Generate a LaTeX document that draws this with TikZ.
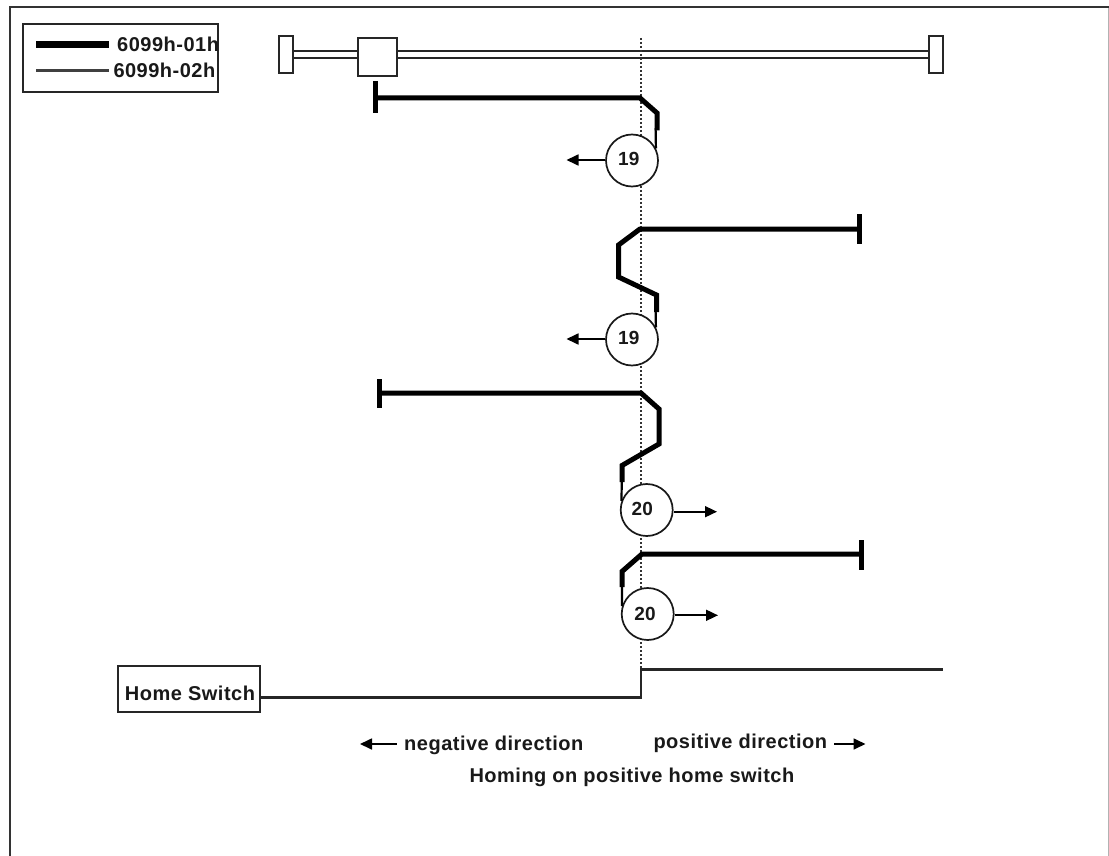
\documentclass[tikz,border=0pt]{standalone}
\usepackage{fontspec}
\setmainfont{Liberation Sans}
\newfontfamily\lblfont[LetterSpace=2.5]{Liberation Sans}
\usetikzlibrary{arrows.meta}
\tikzset{
  thickpath/.style={line width=5pt,line join=miter,black},
  thinpath/.style={line width=2.2pt,black},
  stopbar/.style={line width=5pt,black},
  circ/.style={circle,draw=black!90,line width=1.7pt,minimum size=52pt,inner sep=0pt,fill=white},
  circnum/.style={font=\bfseries\fontsize{19}{19}\selectfont,inner sep=0pt,text=black!90},
  dirarrow/.style={line width=1.7pt,-{Triangle[length=12pt,width=11pt]}},
  lbl/.style={font=\lblfont\bfseries\fontsize{20}{20}\selectfont,inner sep=0pt,text=black!90},
  boxx/.style={draw=black!85,line width=2pt,fill=white,inner sep=0pt}
}
\begin{document}
\begin{tikzpicture}[x=1pt,y=-1pt]
\useasboundingbox (0,0) rectangle (1109,856);
\fill[white] (0,0) rectangle (1109,856);
% frame
\coordinate (fa) at (10,856); \coordinate (fb) at (10,7); \coordinate (fc) at (1108.5,7); \coordinate (fd) at (1108.5,856);
\draw[line width=1pt,black!30] (fc) -- (fd);
\draw[line width=2.2pt,black!80] (fa) -- (fb) -- (fc);
% legend
\node[boxx,minimum width=195pt,minimum height=67.5pt,anchor=north west] (legend) at (22.3,23.3) {};
\coordinate (l1a) at (36,44.3); \coordinate (l1b) at (108.7,44.3);
\coordinate (l2a) at (36,70.7); \coordinate (l2b) at (108.7,70.7);
\draw[line width=6.5pt,black] (l1a) -- (l1b);
\draw[line width=2.4pt,black!75] (l2a) -- (l2b);
\node[lbl,anchor=west] (t1) at (117,44.5) {6099h-01h};
\node[lbl,anchor=west] (t2) at (113.3,70.7) {6099h-02h};
% rail
\coordinate (r1a) at (292,51); \coordinate (r1b) at (930,51);
\coordinate (r2a) at (292,58.3); \coordinate (r2b) at (930,58.3);
\draw[line width=2pt,black!85] (r1a) -- (r1b);
\draw[line width=2pt,black!85] (r2a) -- (r2b);
\node[boxx,minimum width=13.5pt,minimum height=37.3pt] (endl) at (285.8,54.7) {};
\node[boxx,minimum width=13.5pt,minimum height=37.3pt] (endr) at (936,54.7) {};
\node[boxx,minimum width=38.4pt,minimum height=37.4pt] (slider) at (377.5,57) {};
% dotted centre line
\coordinate (da) at (640.7,38); \coordinate (db) at (640.7,669);
\draw[line width=2pt,black!80,dash pattern=on 2pt off 2pt] (da) -- (db);
% circles
\node[circ] (c1) at (632,160.5) {};
\node[circ] (c2) at (632,339.5) {};
\node[circ] (c3) at (646.7,510) {};
\node[circ] (c4) at (647.7,614) {};
\node[circnum] (n1) at (628.8,159.3) {19};
\node[circnum] (n2) at (628.8,338.3) {19};
\node[circnum] (n3) at (642.3,509.3) {20};
\node[circnum] (n4) at (645,614) {20};
% arrows from circles
\coordinate (a1) at (566.5,160); \coordinate (a2) at (566.5,339);
\coordinate (a3) at (717,511.7); \coordinate (a4) at (718,615.3);
\draw[dirarrow] (c1.west |- a1) -- (a1);
\draw[dirarrow] (c2.west |- a2) -- (a2);
\draw[dirarrow] (c3.east |- a3) -- (a3);
\draw[dirarrow] (c4.east |- a4) -- (a4);
% path 1
\coordinate (p1s) at (375,98); \coordinate (p1t) at (375,81); \coordinate (p1u) at (375,113);
\coordinate (q1) at (655.6,128);
\draw[thinpath] (q1) -- (c1.27);
\draw[stopbar] (p1t) -- (p1u);
\draw[thickpath] (p1s) -- (640,98) -- (657,113) -- (657,130.5);
% path 2
\coordinate (p2t) at (859,214); \coordinate (p2u) at (859,244);
\coordinate (q2) at (655.6,310);
\draw[thinpath] (q2) -- (c2.27);
\draw[stopbar] (p2t) -- (p2u);
\draw[thickpath] (859,229) -- (640,229) -- (618.5,245) -- (618.5,277) -- (656.5,295) -- (656.5,312);
% path 3
\coordinate (p3t) at (379,379); \coordinate (p3u) at (379,408);
\coordinate (q3) at (621.8,480);
\draw[thinpath] (q3) -- (c3.160);
\draw[stopbar] (p3t) -- (p3u);
\draw[thickpath] (379,393) -- (641,393) -- (659,409) -- (659,444) -- (622,465.5) -- (622,482);
% path 4
\coordinate (p4t) at (861,540); \coordinate (p4u) at (861,570);
\coordinate (q4) at (622,585);
\draw[thinpath] (q4) -- (c4.163);
\draw[stopbar] (p4t) -- (p4u);
\draw[thickpath] (861,554) -- (642,554) -- (622,571.5) -- (622,587);
% home switch
\node[boxx,minimum width=141.7pt,minimum height=45.7pt] (home) at (189.2,688.8) {};
\node[lbl] (homet) at (190,693) {Home Switch};
\coordinate (h1) at (641,697.5); \coordinate (h2) at (641,669.5); \coordinate (h3) at (942.7,669.5);
\draw[line width=2.4pt,black!85,line join=miter] (home.east |- h1) -- (h1) -- (h2) -- (h3);
% direction labels
\coordinate (na) at (396.7,744); \coordinate (nb) at (360,744);
\coordinate (pa) at (834,744); \coordinate (pb) at (865.5,744);
\draw[dirarrow] (na) -- (nb);
\draw[dirarrow] (pa) -- (pb);
\node[lbl,anchor=west] (neg) at (404,745) {negative direction};
\node[lbl,anchor=west] (pos) at (653.3,743) {positive direction};
\node[lbl,anchor=west] (hom) at (469.3,777.5) {Homing on positive home switch};
\end{tikzpicture}
\end{document}
